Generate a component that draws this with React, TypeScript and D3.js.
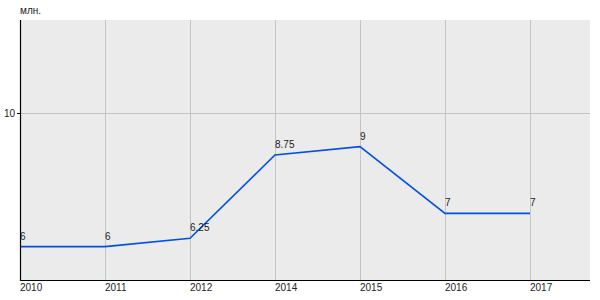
import React from "react";
import * as d3 from "d3";

const years = ["2010", "2011", "2012", "2014", "2015", "2016", "2017"];
const values = [6, 6, 6.25, 8.75, 9, 7, 7];
const valueLabels = ["6", "6", "6.25", "8.75", "9", "7", "7"];
const yTicks = [10];
const unitLabel = "млн.";

const W = 600, H = 300;
const left = 20, right = 590, top = 20, bottom = 280;
const step = 85;

export default function App() {
  const x = d3.scalePoint<string>().domain(years).range([left, left + step * (years.length - 1)]);
  const y = d3.scaleLinear().domain([5, 12.8]).range([bottom, top]);
  const line = d3.line<number>().x((_, i) => x(years[i])!).y((d) => y(d));
  const font = "Arial, 'Liberation Sans', sans-serif";
  return (
    <svg width={W} height={H} style={{ position: "absolute", left: 0, top: 0 }} fontFamily={font}>
      <rect x={left} y={top} width={right - left} height={bottom - top} fill="#ebebeb" />
      {years.map((yr) => (
        <line key={yr} x1={x(yr)! + 0.5} x2={x(yr)! + 0.5} y1={top} y2={bottom} stroke="#c4c4c4" strokeWidth={1} />
      ))}
      {yTicks.map((t) => (
        <g key={t}>
          <line x1={left} x2={right} y1={Math.round(y(t)) + 0.5} y2={Math.round(y(t)) + 0.5} stroke="#c4c4c4" />
          <line x1={left - 3} x2={left} y1={Math.round(y(t)) + 0.5} y2={Math.round(y(t)) + 0.5} stroke="#000" />
          <text x={left - 5} y={y(t) + 3.5} fontSize={10} textAnchor="end" fill="#222">{t}</text>
        </g>
      ))}
      <path d={line(values) || ""} fill="none" stroke="#0050e6" strokeWidth={1.6} />
      {values.map((v, i) => (
        <text key={i} x={x(years[i])!} y={y(v) - 7} fontSize={10} fill="#222">{valueLabels[i]}</text>
      ))}
      <line x1={left + 0.5} x2={left + 0.5} y1={top} y2={bottom + 1} stroke="#000" strokeWidth={1.2} />
      <line x1={left} x2={right} y1={bottom + 0.5} y2={bottom + 0.5} stroke="#000" strokeWidth={1.2} />
      {years.map((yr) => (
        <text key={yr} x={x(yr)!} y={bottom + 11} fontSize={10} fill="#222">{yr}</text>
      ))}
      <text x={left} y={top - 6} fontSize={10} fill="#222">{unitLabel}</text>
    </svg>
  );
}
